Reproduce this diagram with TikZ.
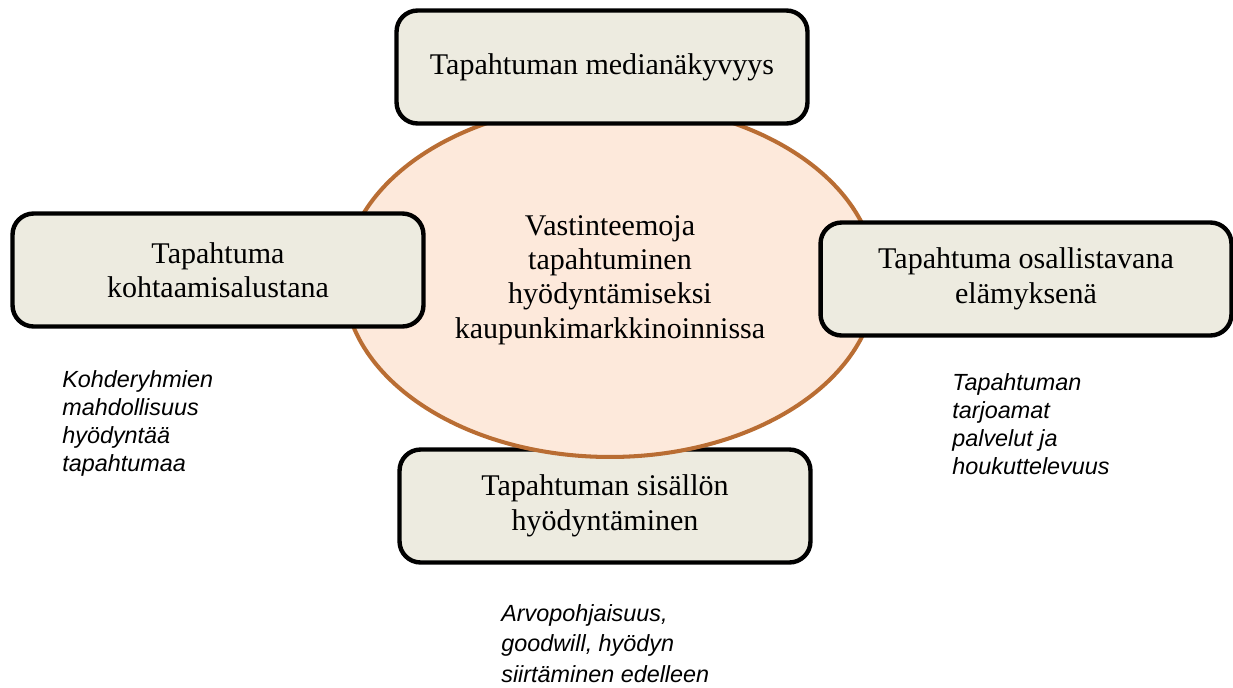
\documentclass[tikz,border=0pt]{standalone}
\usepackage{fontspec}
\setmainfont{Liberation Serif}
\newfontfamily\notefont{Liberation Sans}
\usetikzlibrary{shapes.geometric}
\definecolor{boxfill}{HTML}{EDEBE0}
\definecolor{ovalfill}{HTML}{FDE9DB}
\definecolor{ovalline}{HTML}{B96D33}

\begin{document}
\begin{tikzpicture}[x=0.02cm,y=-0.02cm,
        topic/.style={draw=black,line width=2.5pt,fill=boxfill,rounded corners=12pt,
            minimum width=8.22cm,minimum height=2.26cm,align=center,
            font=\fontsize{17.1}{19.6}\selectfont},
        note/.style={anchor=north west,align=left,inner sep=0pt,
            font=\notefont\itshape\fontsize{13.3}{16}\selectfont}
    ]
    \useasboundingbox (0,0) rectangle (1233,687);
    % bottom box lies under the oval
    \node[topic] (content) at (605,506) {Tapahtuman sisällön\\hyödyntäminen};
    \node[ellipse,draw=ovalline,line width=2.3pt,fill=ovalfill,
        minimum width=10.64cm,minimum height=7.08cm,align=center,
        font=\fontsize{17.1}{19.6}\selectfont] (core) at (610,280)
        {Vastinteemoja\\tapahtuminen\\hyödyntämiseksi\\kaupunkimarkkinoinnissa};
    % the other three boxes lie over it
    \node[topic] (media) at (602,67) {Tapahtuman medianäkyvyys};
    \node[topic] (meet) at (218,270) {Tapahtuma\\kohtaamisalustana};
    \node[topic] (exp) at (1026,279) {Tapahtuma osallistavana\\elämyksenä};
    % notes
    \node[note] (meetnote) at (62,370) {Kohderyhmien\\mahdollisuus\\hyödyntää\\tapahtumaa};
    \node[note] (expnote) at (952,373) {Tapahtuman\\tarjoamat\\palvelut ja\\houkuttelevuus};
    \node[note,font=\notefont\itshape\fontsize{13.3}{17.4}\selectfont] (contentnote) at (501,604)
        {Arvopohjaisuus,\\goodwill, hyödyn\\siirtäminen edelleen};
\end{tikzpicture}
\end{document}
